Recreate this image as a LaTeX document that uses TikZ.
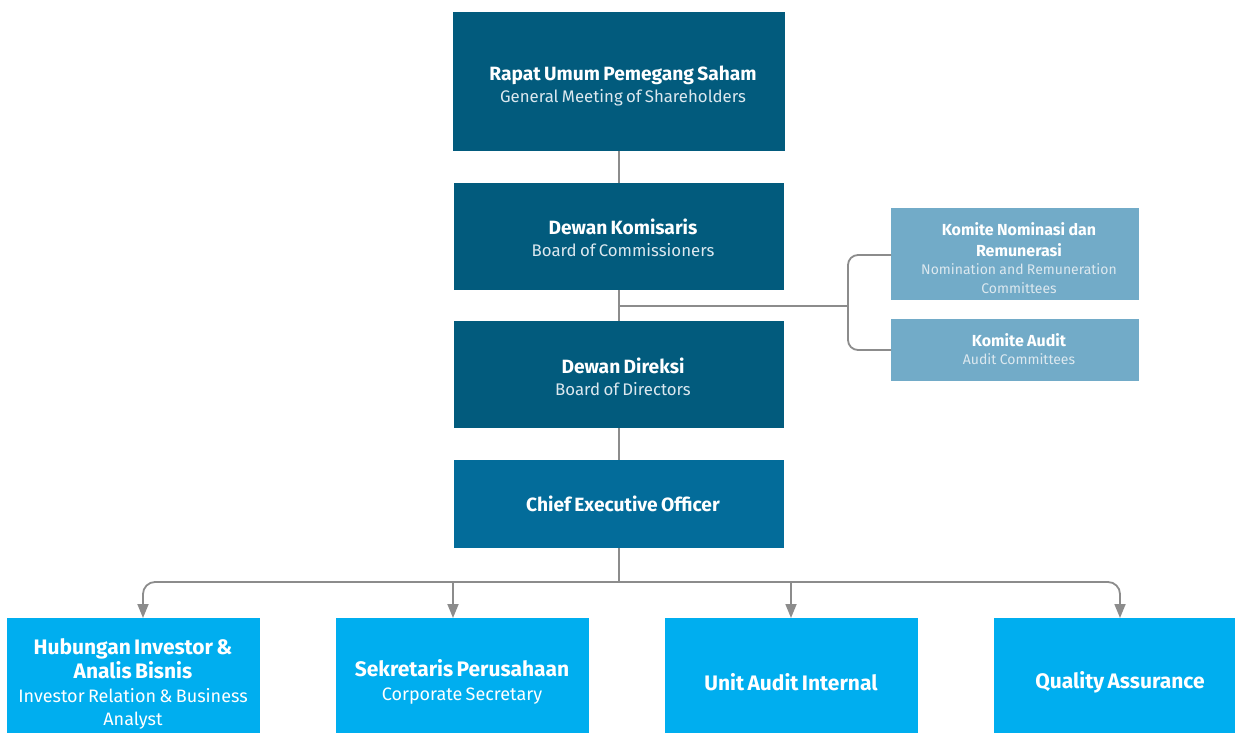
\documentclass[tikz,border=0pt]{standalone}
\usepackage{fontspec}
\setmainfont{Fira Sans}
\usetikzlibrary{arrows.meta}
\definecolor{darkteal}{HTML}{025B7D}
\definecolor{ceoblue}{HTML}{036C9A}
\definecolor{lightteal}{HTML}{72ABC8}
\definecolor{cyanbox}{HTML}{00AEEF}
\definecolor{subtxt}{HTML}{DCE8EF}
\definecolor{conn}{HTML}{8C8C8C}
\tikzset{
  box/.style={draw=none, inner sep=0pt, align=center, text=white},
  wire/.style={draw=conn, line width=1.8pt},
  arr/.style={wire, -{Triangle[length=14pt,width=11pt]}},
}
\newcommand{\tA}[1]{{\fontsize{19.2}{22}\selectfont\bfseries #1\par}}
\newcommand{\sA}[1]{{\fontsize{16.8}{22}\selectfont\color{subtxt}#1\par}}
\newcommand{\tB}[1]{{\fontsize{16}{20.5}\selectfont\bfseries #1\par}}
\newcommand{\sB}[1]{{\fontsize{14}{18.5}\selectfont\color{subtxt}#1\par}}
\newcommand{\tC}[1]{{\fontsize{21}{24.5}\selectfont\bfseries #1\par}}
\newcommand{\sC}[1]{{\fontsize{18}{23.5}\selectfont #1\par}}
\newcommand{\bx}[9]{% name, x1,y1,x2,y2, color, text-center-x, text-center-y, text
  \fill[#6] (#2,#3) rectangle (#4,#5);
  \node[box, text width=#4pt-#2pt-4pt] (#1) at (#7,#8) {#9};
  \coordinate (#1-n) at ({(#2+#4)/2},#3);
  \coordinate (#1-s) at ({(#2+#4)/2},#5);
  \coordinate (#1-w) at (#2,{(#3+#5)/2});
}
\begin{document}
\begin{tikzpicture}[x=1pt,y=-1pt]
\useasboundingbox (0,0) rectangle (1235,733);
\bx{rups}{453}{12}{785}{151}{darkteal}{623}{86}{\tA{Rapat Umum Pemegang Saham}\sA{General Meeting of Shareholders}}
\bx{dk}{454}{183}{784}{290}{darkteal}{623}{238}{\tA{Dewan Komisaris}\sA{Board of Commissioners}}
\bx{dd}{454}{321}{784}{428}{darkteal}{623}{377}{\tA{Dewan Direksi}\sA{Board of Directors}}
\bx{ceo}{454}{460}{784}{548}{ceoblue}{623}{504}{\tA{Chief Executive Officer}}
\bx{knr}{891}{208}{1139}{300}{lightteal}{1019}{258}{\tB{Komite Nominasi dan\\Remunerasi}\sB{Nomination and Remuneration\\Committees}}
\bx{ka}{891}{319}{1139}{381}{lightteal}{1019}{349}{\tB{Komite Audit}\sB{Audit Committees}}
\bx{hi}{7}{618}{260}{733}{cyanbox}{133}{684}{\tC{Hubungan Investor \&\\Analis Bisnis}\sC{Investor Relation \& Business\\Analyst}}
\bx{sp}{336}{618}{589}{733}{cyanbox}{462}{682}{\tC{Sekretaris Perusahaan}\sC{Corporate Secretary}}
\bx{ua}{665}{618}{918}{733}{cyanbox}{791}{682}{\tC{Unit Audit Internal}}
\bx{qa}{994}{618}{1235}{733}{cyanbox}{1120}{682}{\tC{Quality Assurance}}
% vertical spine
\draw[wire] (rups-s) -- (dk-n);
\draw[wire] (dk-s) -- (dd-n);
\draw[wire] (dd-s) -- (ceo-n);
% committee branch
\coordinate (jc) at (619,306);
\coordinate (jb) at (848,306);
\draw[wire] (jc) -- (jb);
\draw[wire, rounded corners=10pt] (knr-w |- 0,255) -- (848,255) -- (848,350) -- (ka-w |- 0,350);
% bottom bus
\coordinate (bus) at (619,582);
\draw[wire] (ceo-s) -- (bus);
\draw[arr, rounded corners=12pt] (bus) -- (143,582) -- (143,618);
\draw[arr, rounded corners=12pt] (bus) -- (1120,582) -- (1120,618);
\draw[arr] (453,582) -- (453,618);
\draw[arr] (791,582) -- (791,618);
\end{tikzpicture}
\end{document}
